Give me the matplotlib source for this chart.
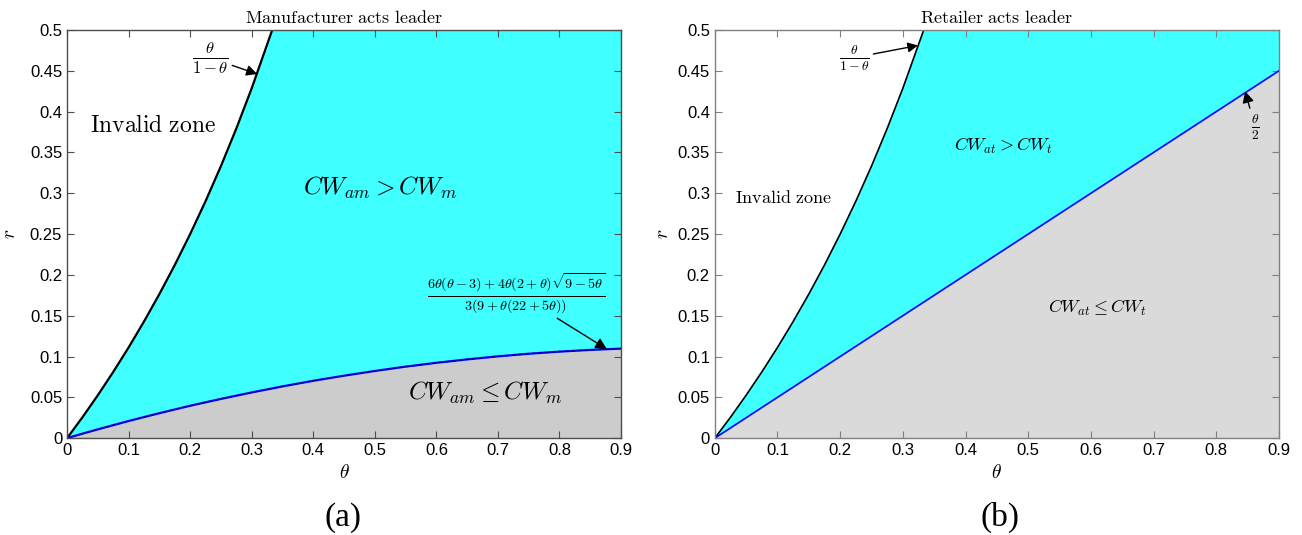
"""
Region plot: manufacturer vs retailer leadership (CW comparison)
"""
import matplotlib.pyplot as plt

plt.rcParams['mathtext.fontset'] = 'cm'
plt.rcParams['font.family'] = 'Liberation Sans'

# boundary theta/(1-theta)
theta_inv = [0, 0.025, 0.05, 0.075, 0.1, 0.125, 0.15, 0.175, 0.2, 0.225,
             0.25, 0.275, 0.3, 0.3333]
r_inv = [0, 0.0256, 0.0526, 0.0811, 0.1111, 0.1429, 0.1765, 0.2121, 0.25,
         0.2903, 0.3333, 0.3793, 0.4286, 0.5]

# panel (a) lower boundary
theta_a = [0, 0.025, 0.05, 0.1, 0.15, 0.2, 0.25, 0.3, 0.35, 0.4, 0.45, 0.5,
           0.55, 0.6, 0.65, 0.7, 0.75, 0.8, 0.85, 0.9]
r_a = [0, 0.0055, 0.0108, 0.0210, 0.0306, 0.0397, 0.0481, 0.0560, 0.0634,
       0.0703, 0.0765, 0.0823, 0.0876, 0.0923, 0.0965, 0.1002, 0.1034,
       0.1060, 0.1081, 0.1097]

# panel (b) lower boundary theta/2
theta_b = [0, 0.9]
r_b = [0, 0.45]

cyan = '#40FFFF'

fig = plt.figure(figsize=(13.02, 5.35), dpi=100)
ax1 = fig.add_axes([0.0515, 0.181, 0.4255, 0.763])
ax2 = fig.add_axes([0.549, 0.181, 0.4333, 0.763])


def setup(ax, spine_col, ypad):
    ax.set_facecolor(cyan)
    ax.set_xlim(0, 0.9)
    ax.set_ylim(0, 0.5)
    ax.set_xticks([i / 10 for i in range(10)])
    ax.set_xticklabels(['0'] + [f'{i / 10:g}' for i in range(1, 10)])
    ax.set_yticks([i / 20 for i in range(11)])
    ax.set_yticklabels(['0'] + [f'{i / 20:g}' for i in range(1, 11)])
    ax.tick_params(direction='in', top=True, right=True, labelsize=12,
                   length=5, color=spine_col, labelcolor='black')
    for s in ax.spines.values():
        s.set_color(spine_col)
        s.set_linewidth(1.0)
    ax.set_xlabel(r'$\theta$', fontsize=14, labelpad=4)
    ax.set_ylabel(r'$r$', fontsize=14, labelpad=ypad)


def arrow(ms=16):
    return dict(arrowstyle='-|>', color='black', lw=1,
                mutation_scale=ms, shrinkA=1, shrinkB=0)


setup(ax1, '0.3', 8)
setup(ax2, '0.5', 4)

# panel (a)
ax1.fill_between(theta_a, 0, r_a, color='#CCCCCC', lw=0)
ax1.fill(theta_inv + [0], r_inv + [0.5], color='white', lw=0)
ax1.plot(theta_inv, r_inv, color='black', lw=1.6)
ax1.plot(theta_a, r_a, color='blue', lw=1.6)
ax1.plot(theta_a, r_a, color='#000060', lw=0.8, ls=(0, (3, 3)))

ax1.set_title(r'$\mathrm{Manufacturer\ acts\ leader}$', fontsize=13, pad=5)
ax1.text(0.037, 0.382, r'$\mathrm{Invalid\ zone}$', fontsize=17, va='center')
ax1.text(0.508, 0.306, r'$CW_{am} > CW_m$', fontsize=18, ha='center', va='center')
ax1.text(0.679, 0.055, r'$CW_{am} \leq CW_m$', fontsize=18, ha='center', va='center')
ax1.annotate(r'$\frac{\theta}{1-\theta}$', xy=(0.309, 0.446), xytext=(0.232, 0.466),
             fontsize=17, ha='center', va='center', arrowprops=arrow(16))
ax1.annotate(r'$\frac{6\theta(\theta-3)+4\theta(2+\theta)\sqrt{9-5\theta}}{3(9+\theta(22+5\theta))}$',
             xy=(0.877, 0.109), xytext=(0.73, 0.178),
             fontsize=14.5, ha='center', va='center', arrowprops=arrow(17))

# panel (b)
ax2.fill_between(theta_b, 0, r_b, color='#DADADA', lw=0)
ax2.fill(theta_inv + [0], r_inv + [0.5], color='white', lw=0)
ax2.plot(theta_inv, r_inv, color='black', lw=1.2)
ax2.plot(theta_b, r_b, color='blue', lw=1.2)

ax2.set_title(r'$\mathrm{Retailer\ acts\ leader}$', fontsize=13, pad=5)
ax2.text(0.032, 0.294, r'$\mathrm{Invalid\ zone}$', fontsize=13, va='center')
ax2.text(0.46, 0.358, r'$CW_{at} > CW_t$', fontsize=13, ha='center', va='center')
ax2.text(0.61, 0.16, r'$CW_{at} \leq CW_t$', fontsize=13, ha='center', va='center')
ax2.annotate(r'$\frac{\theta}{1-\theta}$', xy=(0.324, 0.481), xytext=(0.222, 0.466),
             fontsize=14, ha='center', va='center', arrowprops=arrow(15))
ax2.annotate(r'$\frac{\theta}{2}$', xy=(0.846, 0.425), xytext=(0.862, 0.381),
             fontsize=14, ha='center', va='center', arrowprops=arrow(17))

fig.text(0.2637, 0.018, '(a)', fontsize=24, family='Liberation Serif', ha='center')
fig.text(0.768, 0.018, '(b)', fontsize=24, family='Liberation Serif', ha='center')

plt.savefig('out.png', dpi=100)
plt.close()
